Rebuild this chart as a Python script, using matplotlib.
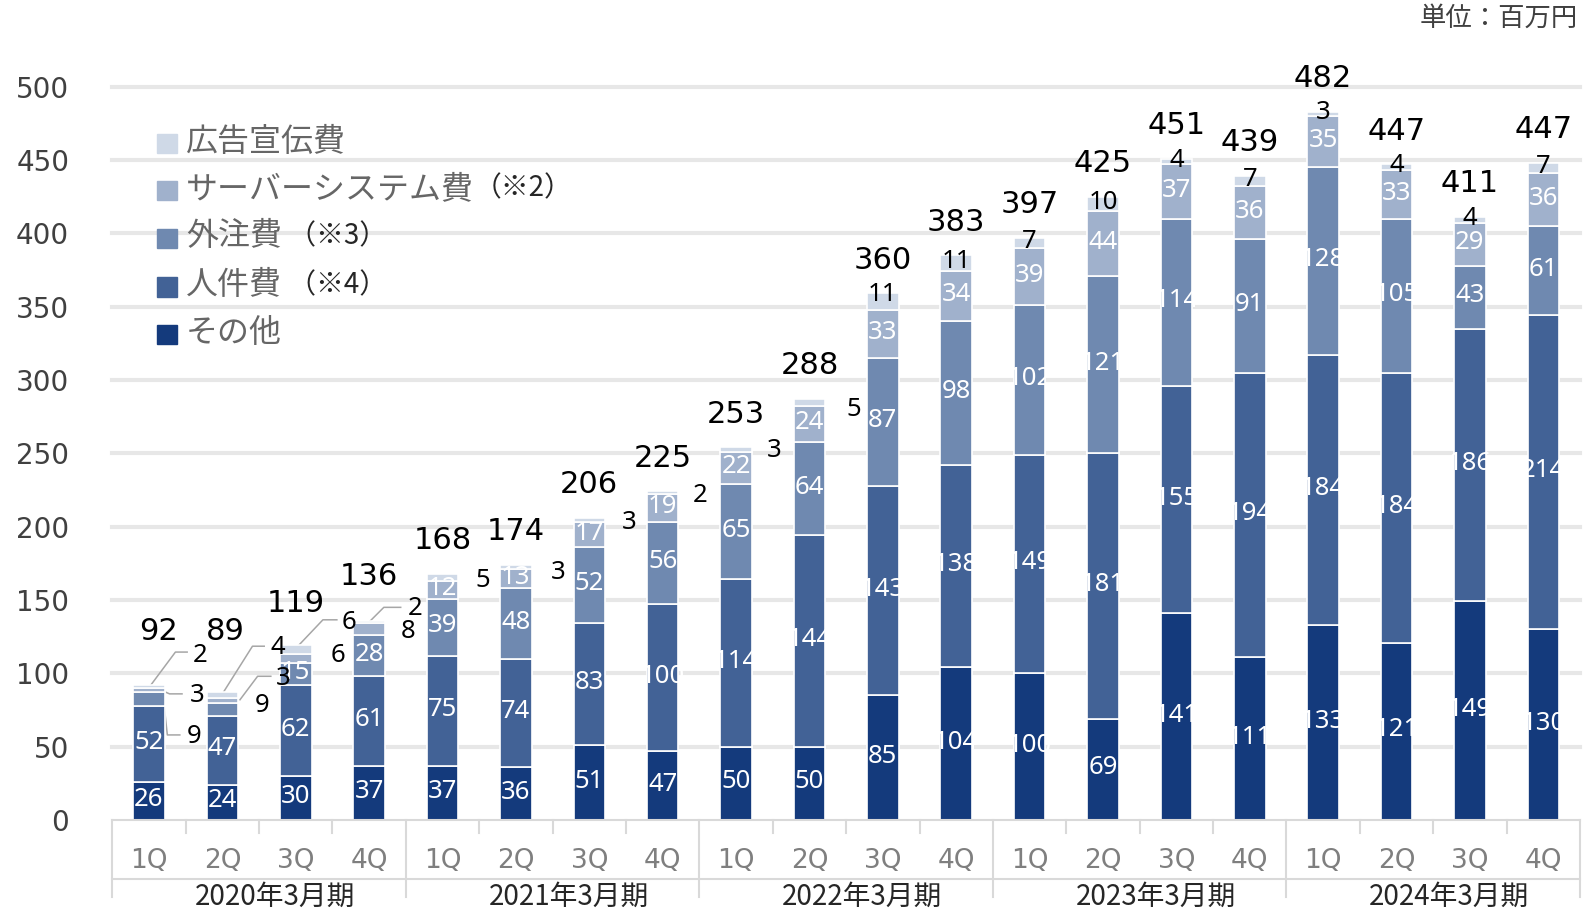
import matplotlib

matplotlib.use("Agg")

import matplotlib.pyplot as plt
from matplotlib.patches import Rectangle

plt.rcParams["font.family"] = ["DejaVu Sans"]

JP = ["Noto Sans CJK JP", "DejaVu Sans"]
NUM = ["Noto Sans", "DejaVu Sans"]

# --- data (百万円), bottom -> top of each stack -----------------------------
YEARS = ["2020年3月期", "2021年3月期", "2022年3月期", "2023年3月期", "2024年3月期"]
QUARTERS = ["1Q", "2Q", "3Q", "4Q"]

other = [26, 24, 30, 37, 37, 36, 51, 47, 50, 50, 85, 104, 100, 69, 141, 111, 133, 121, 149, 130]
personnel = [52, 47, 62, 61, 75, 74, 83, 100, 114, 144, 143, 138, 149, 181, 155, 194, 184, 184, 186, 214]
outsourcing = [9, 9, 15, 28, 39, 48, 52, 56, 65, 64, 87, 98, 102, 121, 114, 91, 128, 105, 43, 61]
server = [3, 3, 6, 8, 12, 13, 17, 19, 22, 24, 33, 34, 39, 44, 37, 36, 35, 33, 29, 36]
advert = [2, 4, 6, 2, 5, 3, 3, 2, 3, 5, 11, 11, 7, 10, 4, 7, 3, 4, 4, 7]
totals = [92, 89, 119, 136, 168, 174, 206, 225, 253, 288, 360, 383, 397, 425, 451, 439, 482, 447, 411, 447]

SERIES_NAMES = ["その他", "人件費", "外注費", "サーバーシステム費", "広告宣伝費"]
SERIES_NOTES = ["", " （※4）", " （※3）", "（※2）", ""]
COLORS = ["#143a7c", "#426296", "#6f89b0", "#a0b1cc", "#cfd9e7"]

# hand-placed small labels (x in category units, y in 百万円)
LABEL_AT = {
    (0, 4): (0.69, 112.5), (0, 3): (0.66, 85.2), (0, 2): (0.61, 56.6),
    (1, 4): (1.76, 117.3), (1, 3): (1.83, 96.8), (1, 2): (1.54, 78.4),
    (2, 4): (2.72, 135.0), (2, 3): (2.57, 112.5),
    (3, 4): (3.63, 143.9), (3, 3): (3.53, 128.2),
    (4, 4): (4.55, 163.0), (5, 4): (5.58, 169.0), (6, 4): (6.55, 203.0),
    (7, 4): (7.51, 221.6), (8, 4): (8.52, 252.0), (9, 4): (9.60, 280.0),
    (10, 4): (10.0, 358.0),
}
LEADERS = {
    (0, 4): [(0.01, 91), (0.36, 114.5), (0.52, 114.5)],
    (0, 3): [(0.19, 88), (0.28, 86), (0.45, 86)],
    (0, 2): [(0.20, 81), (0.25, 58), (0.42, 58)],
    (1, 4): [(1.00, 86), (1.41, 118.5), (1.57, 118.5)],
    (1, 3): [(1.24, 82), (1.48, 98), (1.66, 98)],
    (2, 4): [(2.00, 117), (2.37, 136.5), (2.56, 136.5)],
    (3, 4): [(3.00, 135), (3.20, 145), (3.43, 145)],
}
TOTAL_AT = {0: (0.13, 128.5), 1: (1.04, 128.5), 2: (2.0, 147.5), 3: (3.0, 165.8)}

W, H = 1583, 913
fig = plt.figure(figsize=(W / 100, H / 100), dpi=100)
ax_l, ax_r, ax_b, ax_t = 112.3, 1580, 820, 86.7
ax = fig.add_axes([ax_l / W, 1 - ax_b / H, (ax_r - ax_l) / W, (ax_b - ax_t) / H])
ax_h = ax_b - ax_t

n = len(other)
x = list(range(n))
ax.set_xlim(-0.5, n - 0.5)
ax.set_ylim(0, 500)

for yv in range(50, 501, 50):
    ax.axhline(yv, color="#e7e7e7", linewidth=3, zorder=0, clip_on=False)

layers = [other, personnel, outsourcing, server, advert]
bottoms = [0] * n
for s, vals in enumerate(layers):
    bars = ax.bar(x, vals, 0.43, bottom=bottoms, color=COLORS[s],
                  edgecolor="white", linewidth=1.2, zorder=2)
    for i, (bar, v) in enumerate(zip(bars, vals)):
        if (i, s) in LABEL_AT:
            tx, ty = LABEL_AT[(i, s)]
            ax.text(tx, ty, str(v), ha="center", va="center", fontsize=18.5,
                    family=NUM, color="black", zorder=4)
            if (i, s) in LEADERS:
                px, py = zip(*LEADERS[(i, s)])
                ax.plot(px, py, color="#a6a6a6", linewidth=1.1, zorder=1.5)
        else:
            mid = bottoms[i] + v / 2
            colour = "black" if s == 4 else "white"
            t = ax.text(i, mid + 1, str(v), ha="center", va="center", fontsize=18.5,
                        family=NUM, color=colour, zorder=4)
            if s < 4:
                t.set_clip_path(bar)
    bottoms = [b + v for b, v in zip(bottoms, vals)]

# totals above each stack
for i, tot in enumerate(totals):
    if i in TOTAL_AT:
        tx, ty = TOTAL_AT[i]
        ax.text(tx, ty, str(tot), ha="center", va="center", fontsize=22,
                color="black", zorder=4)
    else:
        ax.annotate(str(tot), (i, bottoms[i]), xytext=(0, 24),
                    textcoords="offset points", ha="center", va="center",
                    fontsize=22, color="black", zorder=4, annotation_clip=False)

# axes cosmetics
for side in ("top", "right", "left"):
    ax.spines[side].set_visible(False)
ax.spines["bottom"].set_color("#d9d9d9")
ax.spines["bottom"].set_linewidth(1.5)
ax.set_yticks(range(0, 501, 50))
ax.tick_params(axis="y", length=0, pad=31, labelsize=20, labelcolor="#404040")
ax.set_xticks([])

# two-level category axis drawn by hand
trans = ax.get_xaxis_transform()
line_kw = dict(color="#d9d9d9", linewidth=1.5, transform=trans, clip_on=False)
for k in range(1, n):
    if k % 4:
        ax.plot([k - 0.5] * 2, [0, -13 / ax_h], **line_kw)
for k in range(0, n + 1, 4):
    ax.plot([k - 0.5] * 2, [0, -77 / ax_h], **line_kw)
ax.plot([-0.5, n - 0.5], [-59 / ax_h] * 2, **line_kw)

for i in x:
    ax.text(i, -41 / ax_h, QUARTERS[i % 4], transform=trans, ha="center",
            va="center", fontsize=19, color="#7f7f7f")
for j, year in enumerate(YEARS):
    ax.text(j * 4 + 1.5 + 0.22, -77 / ax_h, year, transform=trans, ha="center",
            va="center", fontsize=20, color="#262626", family=JP)

fig.text(1578 / W, 1 - 18 / H, "単位：百万円", ha="right", va="center",
         fontsize=19, color="#404040", family=JP)

# legend, drawn top -> bottom
rows_y = [143.8, 190.8, 238.5, 287.0, 334.7]
renderer = fig.canvas.get_renderer()
for row, s in enumerate(reversed(range(5))):
    yc = rows_y[row]
    fig.add_artist(Rectangle((157.3 / W, 1 - (yc + 9.7) / H), 19.4 / W, 19.4 / H,
                             transform=fig.transFigure, color=COLORS[s], zorder=5))
    t = fig.text(186 / W, 1 - (yc - 2) / H, SERIES_NAMES[s], ha="left", va="center",
                 fontsize=23, color="#666666", family=JP, zorder=5)
    if SERIES_NOTES[s]:
        bb = t.get_window_extent(renderer)
        fig.text(bb.x1 / W, 1 - (yc - 2) / H, SERIES_NOTES[s], ha="left",
                 va="center", fontsize=20, color="#262626", family=JP, zorder=5)

fig.savefig("out.png", dpi=100)
